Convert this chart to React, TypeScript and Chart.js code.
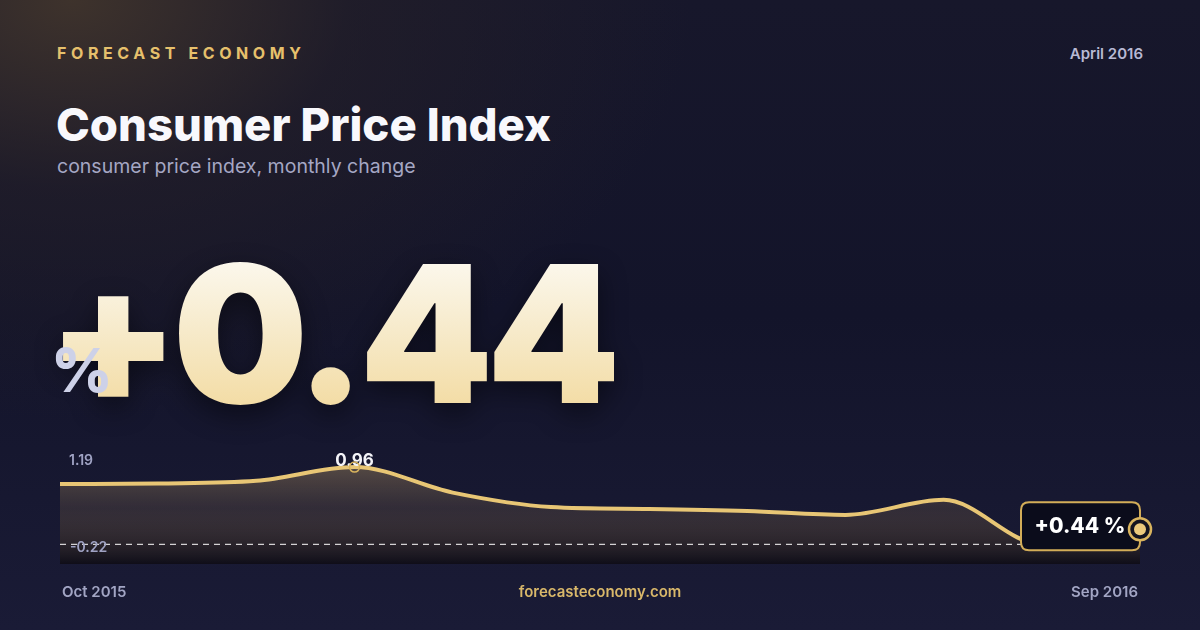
import React, { useEffect, useRef } from "react";
import { Chart, registerables } from "chart.js";

Chart.register(...registerables);

// ---- data ----
const months = [
  "Oct 2015", "Nov 2015", "Dec 2015", "Jan 2016", "Feb 2016", "Mar 2016",
  "Apr 2016", "May 2016", "Jun 2016", "Jul 2016", "Aug 2016", "Sep 2016",
];
const cpiChange = [0.7, 0.71, 0.75, 0.96, 0.57, 0.35, 0.32, 0.29, 0.23, 0.46, -0.22, 0.01];
const axisRange = [-0.52, 1.19]; // [min, max]
const rangeLabels = ["1.19", "-0.22"];
const latestLabel = "+0.44 %";
const headline = "+0.44";
const peakLabel = "0.96";

const GOLD = "#e8c675";
const FONT = "Inter, 'Noto Sans', sans-serif";

const overlayPlugin = {
  id: "overlay",
  afterDatasetsDraw(chart: any) {
    const { ctx, chartArea, scales } = chart;
    const xs = scales.x;
    const ys = scales.y;
    const minVal = Math.min(...cpiChange);
    const maxIdx = cpiChange.indexOf(Math.max(...cpiChange));
    const lastIdx = cpiChange.length - 1;

    ctx.save();
    // dashed min line
    const yMin = ys.getPixelForValue(minVal);
    ctx.setLineDash([6, 5]);
    ctx.strokeStyle = "rgba(255,255,255,0.8)";
    ctx.lineWidth = 1.2;
    ctx.beginPath();
    ctx.moveTo(chartArea.left, yMin);
    ctx.lineTo(chartArea.right, yMin);
    ctx.stroke();
    ctx.setLineDash([]);

    // range labels
    ctx.font = `600 14px ${FONT}`;
    ctx.fillStyle = "#9fa2c3";
    ctx.textAlign = "left";
    ctx.textBaseline = "middle";
    ctx.fillText(rangeLabels[0], chartArea.left + 9, chartArea.top + 9);
    ctx.fillText(rangeLabels[1], chartArea.left + 10, yMin + 3);

    // peak label + ring
    const px = xs.getPixelForValue(maxIdx);
    const py = ys.getPixelForValue(cpiChange[maxIdx]);
    ctx.font = `700 17px ${FONT}`;
    ctx.fillStyle = "#f4f4f8";
    ctx.textAlign = "center";
    ctx.fillText(peakLabel, px, py - 6);
    ctx.strokeStyle = "#d9b45e";
    ctx.lineWidth = 1.5;
    ctx.beginPath();
    ctx.arc(px, py, 5, 0, Math.PI * 2);
    ctx.stroke();

    // end label box
    const lx = xs.getPixelForValue(lastIdx);
    const ly = ys.getPixelForValue(cpiChange[lastIdx]);
    const bw = 119, bh = 48, r = 8;
    const bx = lx - bw, by = ly - 27;
    ctx.beginPath();
    ctx.moveTo(bx + r, by);
    ctx.lineTo(bx + bw - r, by);
    ctx.quadraticCurveTo(bx + bw, by, bx + bw, by + r);
    ctx.lineTo(bx + bw, by + bh - r);
    ctx.quadraticCurveTo(bx + bw, by + bh, bx + bw - r, by + bh);
    ctx.lineTo(bx + r, by + bh);
    ctx.quadraticCurveTo(bx, by + bh, bx, by + bh - r);
    ctx.lineTo(bx, by + r);
    ctx.quadraticCurveTo(bx, by, bx + r, by);
    ctx.closePath();
    ctx.fillStyle = "#0b0c1b";
    ctx.fill();
    ctx.strokeStyle = "#d3ad58";
    ctx.lineWidth = 2;
    ctx.stroke();
    ctx.font = `800 21px ${FONT}`;
    ctx.fillStyle = "#ffffff";
    ctx.textAlign = "center";
    ctx.textBaseline = "middle";
    ctx.fillText(latestLabel, bx + 59, by + 24);

    // end marker
    ctx.beginPath();
    ctx.arc(lx, ly, 11, 0, Math.PI * 2);
    ctx.fillStyle = "#141420";
    ctx.fill();
    ctx.strokeStyle = "#d9b45e";
    ctx.lineWidth = 2.5;
    ctx.stroke();
    ctx.beginPath();
    ctx.arc(lx, ly, 6, 0, Math.PI * 2);
    ctx.fillStyle = "#ebc97c";
    ctx.fill();
    ctx.restore();
  },
};

function CpiChart() {
  const ref = useRef<HTMLCanvasElement | null>(null);
  useEffect(() => {
    if (!ref.current) return;
    const chart = new Chart(ref.current, {
      type: "line",
      data: {
        labels: months,
        datasets: [
          {
            data: cpiChange,
            borderColor: GOLD,
            borderWidth: 4,
            pointRadius: 0,
            cubicInterpolationMode: "monotone",
            fill: "start",
            backgroundColor: (c: any) => {
              const { chart } = c;
              const area = chart.chartArea;
              if (!area) return "transparent";
              const g = chart.ctx.createLinearGradient(0, area.top, 0, area.bottom);
              g.addColorStop(0, "rgba(240,200,120,0.36)");
              g.addColorStop(0.5, "rgba(130,105,75,0.25)");
              g.addColorStop(1, "rgba(12,10,16,0.75)");
              return g;
            },
          },
        ],
      },
      options: {
        animation: false,
        responsive: false,
        devicePixelRatio: 1,
        layout: { padding: { left: 60, right: 60, top: 452, bottom: 66 } },
        plugins: { legend: { display: false }, tooltip: { enabled: false } },
        scales: {
          x: { display: false, offset: false },
          y: { display: false, min: axisRange[0], max: axisRange[1] },
        },
      },
      plugins: [overlayPlugin],
    } as any);
    return () => chart.destroy();
  }, []);
  return (
    <canvas
      ref={ref}
      width={1200}
      height={630}
      style={{ position: "absolute", left: 0, top: 0, width: 1200, height: 630 }}
    />
  );
}

export default function App() {
  const abs: React.CSSProperties = { position: "absolute", whiteSpace: "nowrap", fontFamily: FONT };
  return (
    <div
      style={{
        position: "absolute",
        left: 0,
        top: 0,
        width: 1200,
        height: 630,
        overflow: "hidden",
        fontFamily: FONT,
        background:
          "radial-gradient(ellipse 620px 420px at 6% 0%, rgba(64,52,44,0.95) 0%, rgba(40,34,40,0.5) 45%, rgba(22,22,40,0) 100%), linear-gradient(180deg, #17172b 0%, #13142a 50%, #1a1b36 100%)",
      }}
    >
      <div style={{ ...abs, left: 57, top: 43, fontSize: 16, fontWeight: 700, letterSpacing: 4.6, color: "#e6c06c", lineHeight: "20px" }}>
        FORECAST ECONOMY
      </div>
      <div style={{ ...abs, right: 57, top: 44, fontSize: 15, fontWeight: 600, color: "#b7b9d4", lineHeight: "20px" }}>
        April 2016
      </div>
      <div style={{ ...abs, left: 56, top: 97, fontSize: 45.5, fontWeight: 800, color: "#f8f8fc", lineHeight: "56px", letterSpacing: 0 }}>
        Consumer Price Index
      </div>
      <div style={{ ...abs, left: 57, top: 154, fontSize: 19.5, fontWeight: 400, color: "#a5a7c4", lineHeight: "24px" }}>
        consumer price index, monthly change
      </div>
      <div
        style={{
          ...abs,
          left: 47,
          top: 238,
          fontSize: 191,
          fontWeight: 900,
          lineHeight: "191px",
          letterSpacing: -7,
          background: "linear-gradient(180deg, #fdfcf8 0%, #f6e8c4 55%, #f2d89a 100%)",
          WebkitBackgroundClip: "text",
          backgroundClip: "text",
          color: "transparent",
          filter: "drop-shadow(0 10px 14px rgba(0,0,0,0.45))",
        }}
      >
        {headline}
      </div>
      <div style={{ ...abs, left: 51, top: 335, fontSize: 60, fontWeight: 800, color: "#cdd1e8", lineHeight: "70px" }}>
        %
      </div>
      <CpiChart />
      <div style={{ ...abs, left: 62, top: 582, fontSize: 15, fontWeight: 600, color: "#a2a5c4", lineHeight: "20px" }}>
        {months[0]}
      </div>
      <div style={{ ...abs, left: 0, width: 1200, textAlign: "center", top: 582, fontSize: 15, fontWeight: 600, color: "#d9b86a", lineHeight: "20px" }}>
        forecasteconomy.com
      </div>
      <div style={{ ...abs, right: 62, top: 582, fontSize: 15, fontWeight: 600, color: "#a2a5c4", lineHeight: "20px" }}>
        {months[months.length - 1]}
      </div>
    </div>
  );
}
